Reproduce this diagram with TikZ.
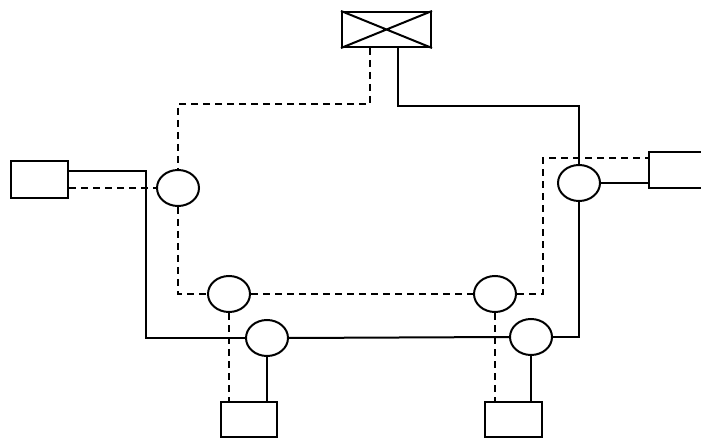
\documentclass[tikz,border=0pt]{standalone}
\usetikzlibrary{shapes.geometric}
\begin{document}
\begin{tikzpicture}[x=1pt,y=-1pt,
  line width=2pt,
  boxnode/.style={draw,rectangle,inner sep=0pt,line width=2pt},
  ell/.style={draw,ellipse,inner sep=0pt,minimum width=42pt,minimum height=36pt,line width=2pt},
  dashline/.style={dash pattern=on 7pt off 5pt},
  solidline/.style={}]
\useasboundingbox (0,0) rectangle (701,438);
\node[boxnode,minimum width=89pt,minimum height=35pt] (T) at (386.5,29.5) {};
\draw (T.north west) -- (T.south east) (T.south west) -- (T.north east);
\node[boxnode,minimum width=57pt,minimum height=37pt] (LB) at (39.5,179.5) {};
\node[boxnode,minimum width=56pt,minimum height=36pt] (RB) at (677,170) {};
\node[boxnode,minimum width=56pt,minimum height=35pt] (BL) at (249,419.5) {};
\node[boxnode,minimum width=57pt,minimum height=35pt] (BR) at (513.5,419.5) {};
\node[ell] (L1) at (178,188) {};
\node[ell] (L2) at (229,294) {};
\node[ell] (L3) at (267,338) {};
\node[ell] (R1) at (579,183) {};
\node[ell] (R2) at (495,294) {};
\node[ell] (R3) at (531,337) {};
\coordinate (a1) at (370,104);
\coordinate (b1) at (398,106);
\coordinate (c1) at (146,171);
\coordinate (d1) at (543,158);
% dashed network
\draw[dashline] (a1 |- T.south) -- (a1) -| (L1.north);
\draw[dashline] (LB.east |- L1.west) -- (L1.west);
\draw[dashline] (L1.south) |- (L2.west);
\draw[dashline] (L2.east) -- (R2.west);
\draw[dashline] (R2.east) -| (d1) -- (d1 -| RB.west);
\draw[dashline] (L2.south) -- (L2.south |- BL.north);
\draw[dashline] (R2.south) -- (R2.south |- BR.north);
% solid network
\draw[solidline] (b1 |- T.south) -- (b1) -| (R1.north);
\draw[solidline] (c1 -| LB.east) -- (c1) |- (L3.west);
\draw[solidline] (L3.east) -- (R3.west);
\draw[solidline] (R1.east) -- (R1.east -| RB.west);
\draw[solidline] (R1.south) |- (R3.east);
\draw[solidline] (L3.south) -- (L3.south |- BL.north);
\draw[solidline] (R3.south) -- (R3.south |- BR.north);
\end{tikzpicture}
\end{document}
